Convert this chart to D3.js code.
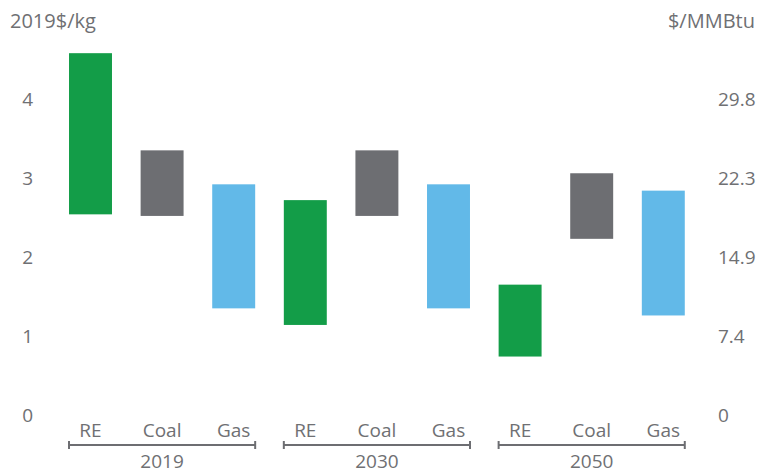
<!DOCTYPE html>
<html>
<head>
<meta charset="utf-8">
<script src="https://cdn.jsdelivr.net/npm/d3@7"></script>
<style>
  html, body { margin: 0; padding: 0; background: #fff; }
  svg text { font-family: "Open Sans", "Noto Sans", sans-serif; fill: #6f7073; }
</style>
</head>
<body>
<svg id="chart" width="758" height="474"></svg>
<script>
// ---- data ----
const years = ["2019", "2030", "2050"];
const fuels = ["RE", "Coal", "Gas"];
const lowValues = [
  [2.54, 2.52, 1.35],
  [1.14, 2.52, 1.35],
  [0.74, 2.23, 1.26]
];
const highValues = [
  [4.58, 3.35, 2.92],
  [2.72, 3.35, 2.92],
  [1.65, 3.06, 2.84]
];
const leftTicks = [0, 1, 2, 3, 4];
const rightTickLabels = ["0", "7.4", "14.9", "22.3", "29.8"];
const fuelColors = ["#139d48", "#6d6e72", "#62b9e8"];
const leftTitle = "2019$/kg";
const rightTitle = "$/MMBtu";

// ---- build ----
const rows = [];
years.forEach((yr, i) => fuels.forEach((f, j) => rows.push({
  key: yr + "|" + f, year: yr, fuel: f, fi: j, lo: lowValues[i][j], hi: highValues[i][j]
})));

const svg = d3.select("#chart");
const x = d3.scaleBand().domain(rows.map(d => d.key)).range([54.7, 699.1])
  .paddingInner(0.4).paddingOuter(0.2);
const y = d3.scaleLinear().domain([0, 5]).range([415, 20]);
const fontSize = 19;

// bars
svg.append("g").selectAll("rect").data(rows).join("rect")
  .attr("x", d => x(d.key))
  .attr("width", x.bandwidth())
  .attr("y", d => y(d.hi))
  .attr("height", d => y(d.lo) - y(d.hi))
  .attr("fill", d => fuelColors[d.fi]);

// left axis
const leftAxis = d3.axisLeft(y).tickValues(leftTicks).tickSize(0).tickPadding(0).tickFormat(d3.format("d"));
const gl = svg.append("g").attr("transform", "translate(33,0)").call(leftAxis);
gl.select(".domain").remove();
gl.selectAll("text").style("font-size", fontSize + "px").attr("fill", "#6f7073").style("font-family", null);

// right axis
const rightAxis = d3.axisRight(y).tickValues(leftTicks).tickSize(0).tickPadding(0)
  .tickFormat((d, i) => rightTickLabels[i]);
const gr = svg.append("g").attr("transform", "translate(718,0)").call(rightAxis);
gr.select(".domain").remove();
gr.selectAll("text").style("font-size", fontSize + "px").attr("fill", "#6f7073").style("font-family", null);

// axis titles
svg.append("text").attr("x", 10).attr("y", 28).style("font-size", "20px").text(leftTitle);
svg.append("text").attr("x", 755).attr("y", 28).attr("text-anchor", "end").style("font-size", "20px").text(rightTitle);

// category labels
svg.append("g").selectAll("text").data(rows).join("text")
  .attr("x", d => x(d.key) + x.bandwidth() / 2)
  .attr("y", 437)
  .attr("text-anchor", "middle")
  .style("font-size", fontSize + "px")
  .text(d => d.fuel);

// group brackets and year labels
const bracketY = 445;
years.forEach(yr => {
  const x0 = x(yr + "|" + fuels[0]);
  const x1 = x(yr + "|" + fuels[fuels.length - 1]) + x.bandwidth();
  const g = svg.append("g").attr("stroke", "#6d6e72").attr("stroke-width", 2);
  g.append("line").attr("x1", x0).attr("x2", x1).attr("y1", bracketY).attr("y2", bracketY);
  g.append("line").attr("x1", x0).attr("x2", x0).attr("y1", bracketY - 4).attr("y2", bracketY + 4);
  g.append("line").attr("x1", x1).attr("x2", x1).attr("y1", bracketY - 4).attr("y2", bracketY + 4);
  const mid = x(yr + "|" + fuels[1]) + x.bandwidth() / 2;
  svg.append("text").attr("x", mid).attr("y", 468).attr("text-anchor", "middle")
    .style("font-size", fontSize + "px").text(yr);
});
</script>
</body>
</html>
